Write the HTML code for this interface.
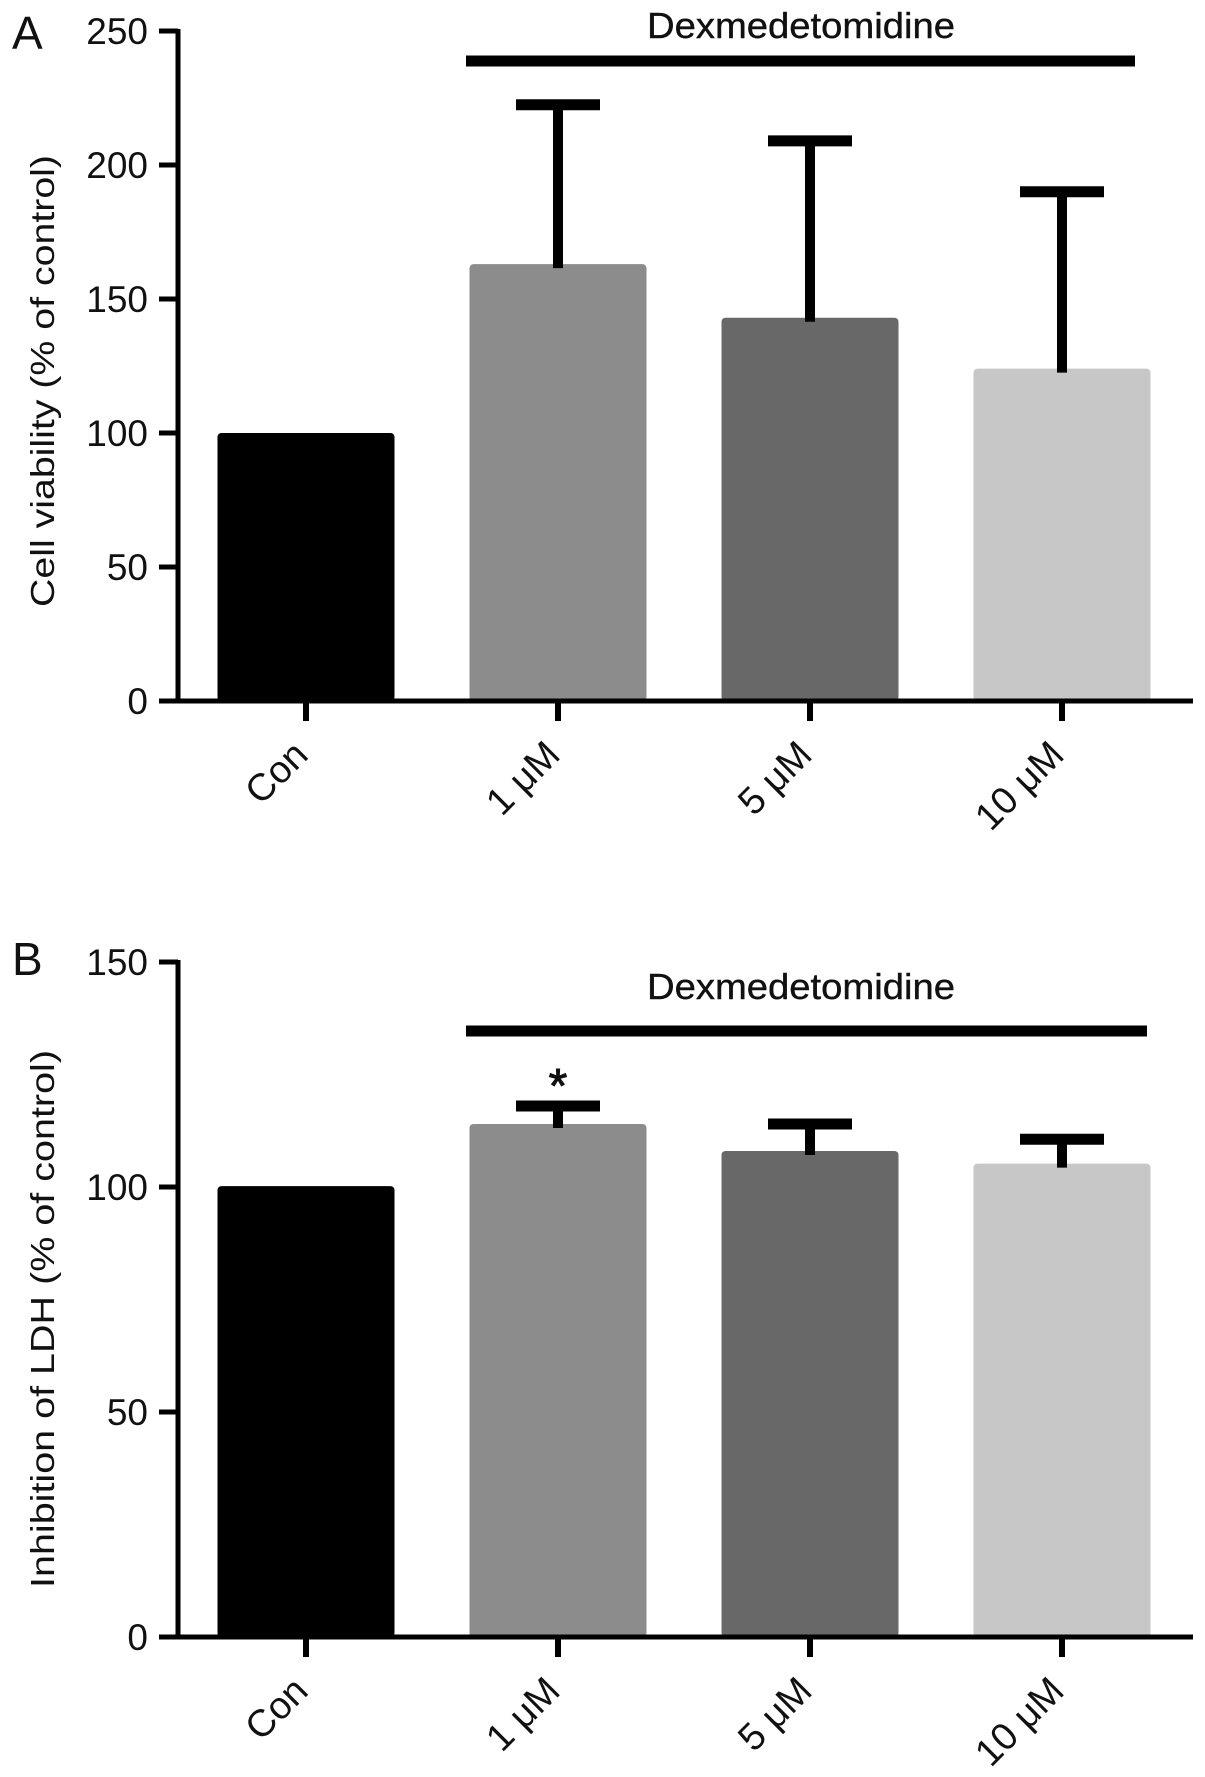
<!DOCTYPE html>
<html><head><meta charset="utf-8"><style>
html,body{margin:0;padding:0;background:#fff}
svg text{font-family:"Liberation Sans",Arial,sans-serif;fill:#111}
</style></head><body>
<svg id="fig" width="1205" height="1772" viewBox="0 0 1205 1772" xmlns="http://www.w3.org/2000/svg"></svg>
<script>
const categories = ["Con", "1 \u03bcM", "5 \u03bcM", "10 \u03bcM"];
const viabilityMeans = [100, 163, 143, 124];
const viabilityErrTops = [null, 222.5, 209, 190];
const viabilityTicks = [0, 50, 100, 150, 200, 250];
const ldhMeans = [100.2, 114, 108, 105.2];
const ldhErrTops = [null, 118, 114, 110.6];
const ldhTicks = [0, 50, 100, 150];
const barColors = ["#000000", "#8c8c8c", "#686868", "#c7c7c7"];

const NS = "http://www.w3.org/2000/svg";
const svg = document.getElementById("fig");
function mk(tag, attrs, parent) {
  const e = document.createElementNS(NS, tag);
  for (const k in attrs) e.setAttribute(k, attrs[k]);
  (parent || svg).appendChild(e);
  return e;
}

function panel(cfg) {
  const g = mk("g", {});
  
  
  const yScale = v => cfg.y0 - (v - cfg.min) / (cfg.max - cfg.min) * (cfg.y0 - cfg.yTop);
  const xLeft = 178, xRight = 1193, first = 306, step = 252, bw = 177;
  const xc = i => first + i * step;

  cfg.means.forEach((v, i) => {
    const r = mk("rect", {x: xc(i) - bw / 2, y: yScale(v), width: bw, height: cfg.y0 - yScale(v), rx: 4, fill: barColors[i]}, g);
    
    
  });
  cfg.errs.forEach((t, i) => {
    if (t === null) return;
    const x = xc(i);
    const st = mk("line", {x1: x, x2: x, y1: yScale(t), y2: yScale(cfg.means[i]) + 4, stroke: "#000", "stroke-width": 10}, g);
    
    
    const cp = mk("line", {x1: x - 42, x2: x + 42, y1: yScale(t), y2: yScale(t), stroke: "#000", "stroke-width": 11}, g);
    
    
  });
  const ya = mk("line", {x1: xLeft, x2: xLeft, y1: cfg.yTop - 2, y2: cfg.y0 + 2, stroke: "#000", "stroke-width": 5}, g);
  
  
  const xa = mk("line", {x1: xLeft - 2, x2: xRight, y1: cfg.y0, y2: cfg.y0, stroke: "#000", "stroke-width": 5}, g);
  
  
  cfg.ticks.forEach(t => {
    const y = yScale(t);
    mk("line", {x1: 159, x2: xLeft, y1: y, y2: y, stroke: "#000", "stroke-width": 5}, g);
    const tl = mk("text", {x: 148, y: y + 13, "text-anchor": "end", "font-size": 37}, g);
    tl.textContent = t;
    
    
  });
  categories.forEach((c, i) => {
    const x = xc(i);
    mk("line", {x1: x, x2: x, y1: cfg.y0, y2: cfg.y0 + 20, stroke: "#000", "stroke-width": 6}, g);
    const lx = x + 4, ly = cfg.y0 + 56;
    const tl = mk("text", {x: lx, y: ly, "text-anchor": "end", "font-size": 38, transform: `rotate(-45 ${lx} ${ly})`}, g);
    tl.textContent = c;
    
    
  });
  const yt = mk("text", {x: 0, y: 0, "text-anchor": "middle", "font-size": 33, textLength: cfg.titleLen, lengthAdjust: "spacingAndGlyphs", transform: `translate(54 ${cfg.titleY}) rotate(-90)`}, g);
  yt.textContent = cfg.title;
  
  
  const pl = mk("text", {x: 12, y: cfg.letterY, "font-size": 46}, g);
  pl.textContent = cfg.letter;
  
  
  const gl = mk("line", {x1: 466, x2: cfg.lineR, y1: cfg.lineY, y2: cfg.lineY, stroke: "#000", "stroke-width": 11}, g);
  
  
  const gt = mk("text", {x: 647, y: cfg.textY, "font-size": 36, textLength: 308, lengthAdjust: "spacingAndGlyphs", style: "stroke:#111;stroke-width:0.4"}, g);
  gt.textContent = "Dexmedetomidine";
  
  
  return {g, yScale, xc};
}

panel({name: "panel-a", y0: 701, yTop: 31, min: 0, max: 250, means: viabilityMeans, errs: viabilityErrTops,
  ticks: viabilityTicks, title: "Cell viability (% of control)", titleLen: 452, titleY: 381,
  letter: "A", letterY: 49, lineY: 61, lineR: 1135, textY: 38});

const pb = panel({name: "panel-b", y0: 1637, yTop: 962, min: 0, max: 150, means: ldhMeans, errs: ldhErrTops,
  ticks: ldhTicks, title: "Inhibition of LDH (% of control)", titleLen: 538, titleY: 1319,
  letter: "B", letterY: 975, lineY: 1031, lineR: 1147, textY: 999});
const star = mk("text", {x: pb.xc(1), y: pb.yScale(ldhErrTops[1]) - 4, "text-anchor": "middle", "font-size": 48, style: "stroke:#111;stroke-width:1"}, pb.g);
star.textContent = "*";


</script>
</body></html>
